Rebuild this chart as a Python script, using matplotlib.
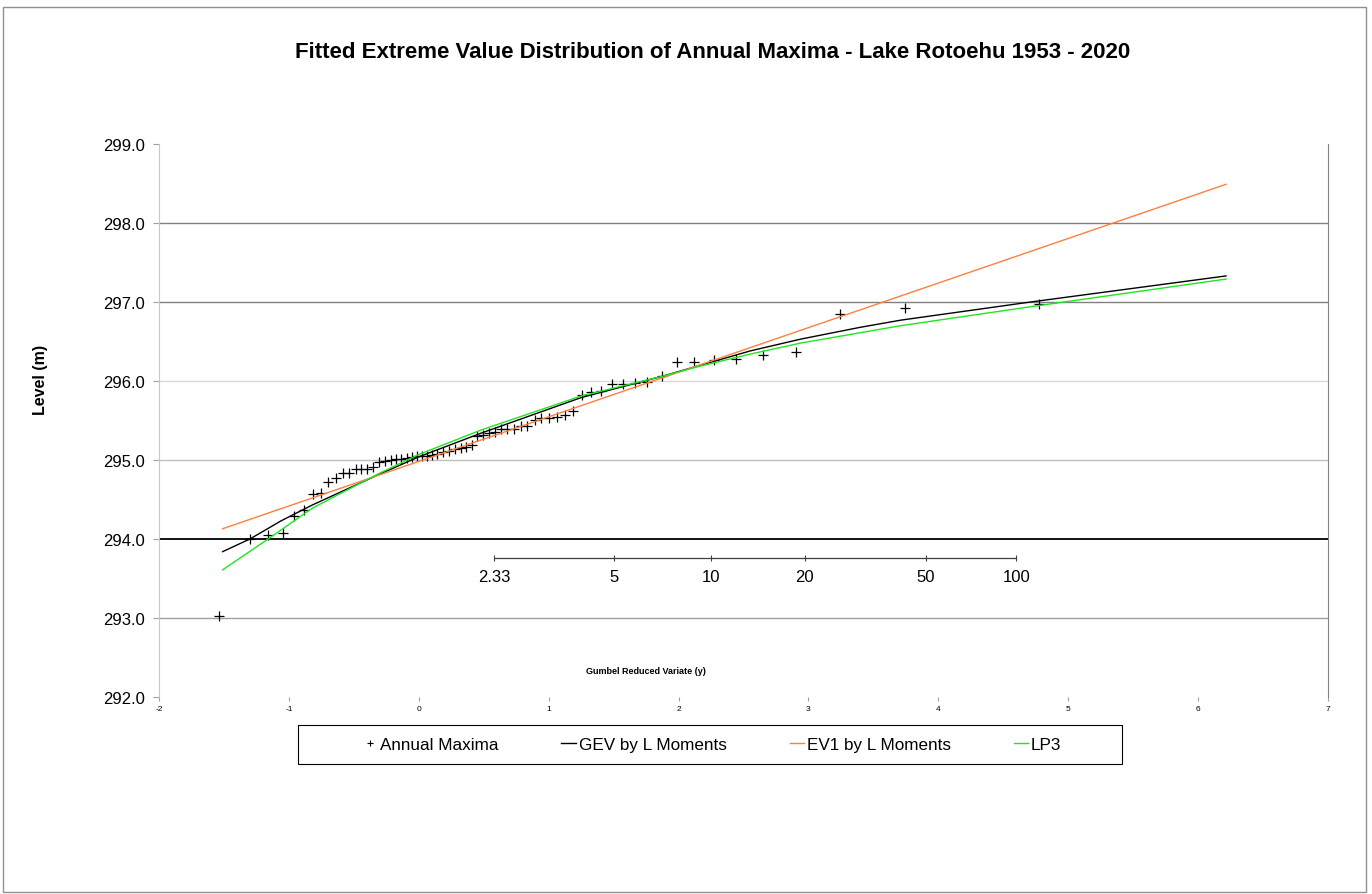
import numpy as np
import matplotlib
matplotlib.use("Agg")
import matplotlib.pyplot as plt
from matplotlib.patches import Rectangle
from matplotlib.lines import Line2D

plt.rcParams['font.family'] = ['Liberation Sans', 'DejaVu Sans']

# annual maxima, plotted against the Gumbel reduced variate
gumbel_y = [-1.538, -1.302, -1.159, -1.048, -0.964, -0.887, -0.818, -0.754, -0.698, -0.641,
            -0.587, -0.536, -0.485, -0.446, -0.400, -0.356, -0.305, -0.262, -0.215, -0.177,
            -0.138, -0.092, -0.054, -0.010, 0.028, 0.067, 0.105, 0.144, 0.190, 0.233,
            0.277, 0.323, 0.362, 0.408, 0.452, 0.495, 0.541, 0.585, 0.636, 0.682,
            0.733, 0.785, 0.836, 0.892, 0.944, 1.002, 1.062, 1.123, 1.190, 1.259,
            1.328, 1.405, 1.490, 1.575, 1.662, 1.759, 1.875, 1.988, 2.118, 2.272,
            2.446, 2.648, 2.905, 3.241, 3.746, 4.772]
levels = [293.03, 294.00, 294.05, 294.07, 294.29, 294.37, 294.57, 294.58, 294.72, 294.77,
          294.83, 294.83, 294.88, 294.88, 294.89, 294.91, 294.97, 294.99, 295.00, 295.01,
          295.01, 295.03, 295.04, 295.05, 295.05, 295.05, 295.06, 295.08, 295.10, 295.11,
          295.14, 295.15, 295.16, 295.19, 295.30, 295.32, 295.34, 295.36, 295.39, 295.39,
          295.39, 295.43, 295.43, 295.51, 295.53, 295.53, 295.54, 295.57, 295.62, 295.82,
          295.86, 295.87, 295.96, 295.96, 295.97, 295.99, 296.06, 296.24, 296.24, 296.27,
          296.28, 296.33, 296.37, 296.85, 296.93, 296.97]

# fitted distributions
gev_x = [-1.51, -1.30, -1.06, -0.82, -0.33, 0.0, 0.48, 1.25, 1.875, 2.17, 2.55, 2.94, 3.40, 3.71, 4.71, 6.215]
gev_level = [293.84, 294.00, 294.23, 294.43, 294.80, 295.04, 295.34, 295.79, 296.06, 296.20,
             296.38, 296.53, 296.68, 296.77, 297.00, 297.33]
ev1_x = [-1.51, 6.215]
ev1_level = [294.13, 298.49]
lp3_x = [-1.51, -1.16, -0.82, -0.33, 0.0, 0.48, 1.25, 1.875, 2.17, 2.55, 2.94, 3.71, 4.71, 6.215]
lp3_level = [293.61, 294.00, 294.39, 294.81, 295.07, 295.38, 295.81, 296.06, 296.19, 296.34,
             296.48, 296.70, 296.94, 297.29]

return_periods = [2.33, 5, 10, 20, 50, 100]
return_labels = ['2.33', '5', '10', '20', '50', '100']
rp_axis_level = 293.76

W, H = 1372, 895
fig = plt.figure(figsize=(W / 100, H / 100), dpi=100)


def fx(px):
    return px / W


def fy(py):
    return 1 - py / H


ax = fig.add_axes([fx(159), fy(698), fx(1328 - 159), (698 - 145) / H])
ax.set_xlim(-2, 7)
ax.set_ylim(292, 299)

# gridlines
grid_colors = {293: '#a0a0a0', 294: 'black', 295: '#c0c0c0', 296: '#d8d8d8', 297: '#808080', 298: '#808080'}
for lev, c in grid_colors.items():
    ax.axhline(lev, color=c, lw=1.0 if lev != 294 else 1.3, zorder=1)

ax.plot(gumbel_y, levels, linestyle='none', marker='+', color='black', ms=6.5, mew=0.9, zorder=3)
ax.plot(gev_x, gev_level, color='black', lw=1.0, zorder=4)
ax.plot(ev1_x, ev1_level, color='#ff7f3f', lw=1.0, zorder=4)
ax.plot(lp3_x, lp3_level, color='#1ee61e', lw=1.0, zorder=4)

# return period axis drawn inside the plot
rp_pos = [-np.log(-np.log(1 - 1 / t)) for t in return_periods]
ax.plot([rp_pos[0], rp_pos[-1]], [rp_axis_level, rp_axis_level], color='#404040', lw=0.9, zorder=2)
ax.plot(rp_pos, [rp_axis_level] * len(rp_pos), linestyle='none', marker='|', ms=4, mew=0.8,
        color='#404040', zorder=2)
for p, lab in zip(rp_pos, return_labels):
    ax.text(p, rp_axis_level - 0.24, lab, ha='center', va='center', fontsize=12)

# spines and ticks
for s in ['top', 'bottom']:
    ax.spines[s].set_visible(False)
ax.spines['left'].set_color('#c8c8c8')
ax.spines['right'].set_color('#808080')
ax.set_yticks(np.arange(292, 300))
ax.set_yticklabels([f"{v:.1f}" for v in range(292, 300)], fontsize=12)
ax.set_xticks(range(-2, 8))
ax.set_xticklabels([str(v) for v in range(-2, 8)], fontsize=6)
ax.tick_params(axis='y', length=4, color='#a0a0a0', pad=6)
ax.tick_params(axis='x', length=3, color='#a0a0a0', pad=3)

fig.text(fx(713), fy(53), 'Fitted Extreme Value Distribution of Annual Maxima - Lake Rotoehu 1953 - 2020',
         ha='center', va='center', fontsize=16, fontweight='bold')
fig.text(fx(40), fy(380), 'Level (m)', rotation=90, ha='center', va='center', fontsize=11.5,
         fontweight='bold')
fig.text(fx(646), fy(672), 'Gumbel Reduced Variate (y)', ha='center', va='center', fontsize=6.5,
         fontweight='bold')

# legend with a wider frame drawn separately
fig.patches.append(Rectangle((fx(298), fy(765)), fx(1122 - 298), (765 - 726) / H,
                             transform=fig.transFigure, fill=False, edgecolor='black', lw=0.8))
handles = [Line2D([], [], linestyle='none', marker='+', color='black', ms=5, mew=0.8),
           Line2D([], [], color='black', lw=1.0),
           Line2D([], [], color='#ff7f3f', lw=1.0),
           Line2D([], [], color='#1ee61e', lw=1.0)]
labels = ['Annual Maxima', 'GEV by L Moments', 'EV1 by L Moments', 'LP3']
fig.legend(handles, labels, loc='center', bbox_to_anchor=(fx(712), fy(745.5)), ncol=4,
           frameon=False, fontsize=12.3, handlelength=0.85, handletextpad=0.15, columnspacing=3.7)

# chart border
fig.patches.append(Rectangle((fx(3), fy(893)), fx(1366 - 3), (893 - 8) / H,
                             transform=fig.transFigure, fill=False, edgecolor='#909090', lw=1.0))

fig.savefig('out.png', dpi=100)
